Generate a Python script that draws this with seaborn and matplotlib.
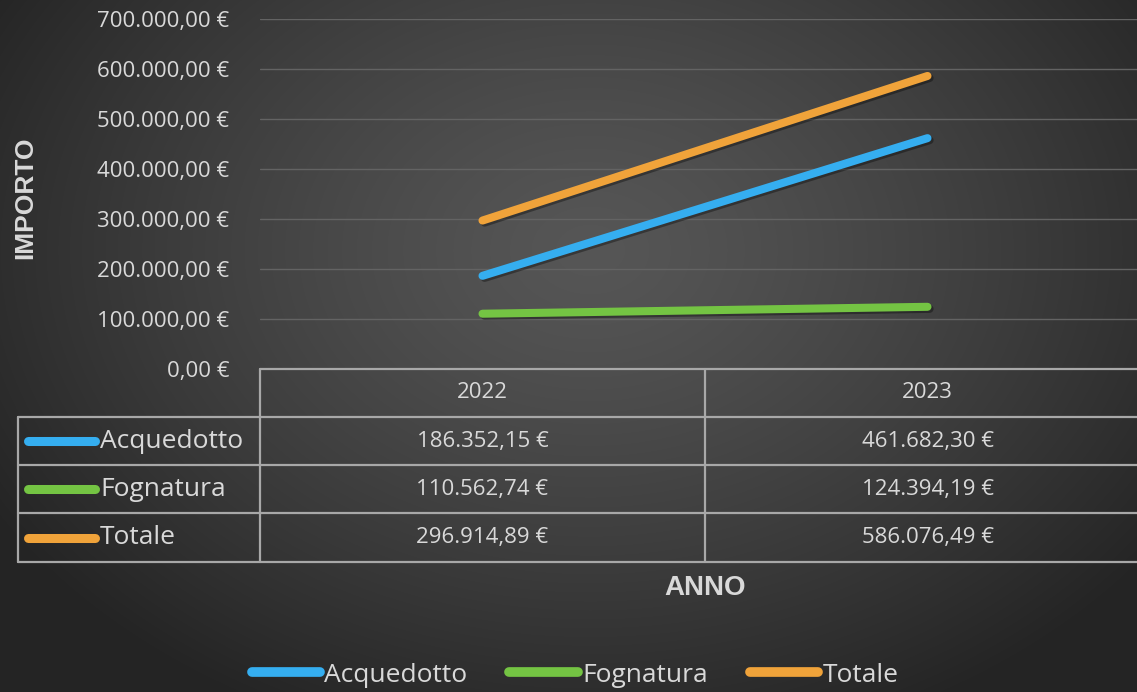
import numpy as np
import pandas as pd
import matplotlib
matplotlib.use("Agg")
import matplotlib.pyplot as plt
from matplotlib.lines import Line2D
import matplotlib.patheffects as pe
import seaborn as sns

# ---------------- data ----------------
years = ["2022", "2023"]
series = ["Acquedotto", "Fognatura", "Totale"]
acquedotto = [186352.15, 461682.30]
fognatura = [110562.74, 124394.19]
totale = [296914.89, 586076.49]
yticks = [0, 100000, 200000, 300000, 400000, 500000, 600000, 700000]
colors = {"Acquedotto": "#35aef0", "Fognatura": "#74c443", "Totale": "#f0a33a"}

values = {"Acquedotto": acquedotto, "Fognatura": fognatura, "Totale": totale}
df = pd.DataFrame(
    [(y, s, values[s][i]) for s in series for i, y in enumerate(years)],
    columns=["Anno", "Serie", "Importo"],
)

def eur(v):
    s = f"{v:,.2f}".replace(",", "X").replace(".", ",").replace("X", ".")
    return s + " €"

# ---------------- figure ----------------
sns.set_theme(style="dark")
plt.rcParams["font.family"] = ["Open Sans", "DejaVu Sans"]
W, H = 1137, 692
fig = plt.figure(figsize=(W / 100, H / 100), dpi=100)

# radial gradient background
bg = fig.add_axes([0, 0, 1, 1], zorder=-10)
yy, xx = np.mgrid[0:H, 0:W]
r = np.sqrt(((xx - 590) / 700.0) ** 2 + ((yy - 250) / 520.0) ** 2)
r = np.clip(r, 0, 1)
inner = np.array([0x56, 0x56, 0x56]) / 255
outer = np.array([0x24, 0x24, 0x24]) / 255
img = inner[None, None, :] * (1 - r[..., None] ** 1.3) + outer[None, None, :] * (r[..., None] ** 1.3)
bg.imshow(img, extent=[0, W, H, 0], aspect="auto", interpolation="bilinear")
bg.set_axis_off()

def fx(px):
    return px / W

def fy(py):
    return 1 - py / H

ax_l, ax_r, ax_t, ax_b = 260, 1150, 19, 369
ax = fig.add_axes([fx(ax_l), fy(ax_b), (ax_r - ax_l) / W, (ax_b - ax_t) / H])
ax.set_facecolor("none")

sns.lineplot(
    data=df, x="Anno", y="Importo", hue="Serie", palette=colors,
    hue_order=series, linewidth=5.8, ax=ax, legend=False,
    solid_capstyle="round",
)
for ln in ax.get_lines():
    ln.set_path_effects([pe.SimpleLineShadow(offset=(1.5, -1.5), alpha=0.35, shadow_color="black"), pe.Normal()])
    ln.set_zorder(3)

ax.set_xlim(-0.5, 1.5)
ax.set_ylim(0, 700000)
ax.set_yticks(yticks)
ax.set_yticklabels([eur(v) for v in yticks])
ax.tick_params(axis="y", colors="#d9d9d9", labelsize=16, pad=22, length=0)
ax.set_xticks([])
ax.set_xlabel("")
ax.set_ylabel("")
ax.grid(False)
for v in yticks[1:]:
    ax.axhline(v, color="#636363", lw=1.0, zorder=1)
for sp in ax.spines.values():
    sp.set_visible(False)

# ---------------- data table ----------------
tcol = "#a8a8a8"
tlw = 1.6
rows_y = [369, 417, 465, 513, 562]
def hline(py, x0, x1):
    fig.add_artist(Line2D([fx(x0), fx(x1)], [fy(py), fy(py)], color=tcol, lw=tlw, zorder=5))
def vline(px, y0, y1):
    fig.add_artist(Line2D([fx(px), fx(px)], [fy(y0), fy(y1)], color=tcol, lw=tlw, zorder=5))

hline(rows_y[0], 260, W)
for py in rows_y[1:]:
    hline(py, 18, W)
vline(18, rows_y[1], rows_y[-1])
vline(260, rows_y[0], rows_y[-1])
col_div = ax.transData.transform((0.5, 0))[0]
vline(col_div, rows_y[0], rows_y[-1])

txt_col = "#d9d9d9"
trans = matplotlib.transforms.blended_transform_factory(ax.transData, fig.transFigure)
for i, y in enumerate(years):
    ax.text(i, fy((rows_y[0] + rows_y[1]) / 2), y, transform=trans,
            ha="center", va="center", color=txt_col, fontsize=16)
for r_i, s in enumerate(series):
    yc = (rows_y[r_i + 1] + rows_y[r_i + 2]) / 2
    fig.add_artist(Line2D([fx(28), fx(95)], [fy(yc), fy(yc)], color=colors[s],
                          lw=6.5, solid_capstyle="round", zorder=6))
    fig.text(fx(100), fy(yc), s, ha="left", va="center", color=txt_col, fontsize=19)
    for i in range(len(years)):
        ax.text(i, fy(yc), eur(values[s][i]), transform=trans,
                ha="center", va="center", color=txt_col, fontsize=16)

# axis titles
fig.text(fx(705), fy(588), "ANNO", ha="center", va="center", color=txt_col,
         fontsize=20, fontweight="bold", family="Liberation Sans")
fig.text(fx(25), fy(198), "IMPORTO", ha="center", va="center", rotation=90,
         color=txt_col, fontsize=19, fontweight="bold", family="Liberation Sans")

# legend
handles = [Line2D([0], [0], color=colors[s], lw=7, solid_capstyle="round") for s in series]
leg = fig.legend(handles, series, loc="center", bbox_to_anchor=(fx(575), fy(675)),
                 ncol=3, frameon=False, fontsize=19, handlelength=2.6,
                 handletextpad=0.15, columnspacing=1.6, labelcolor=txt_col)

fig.savefig("out.png", dpi=100)
